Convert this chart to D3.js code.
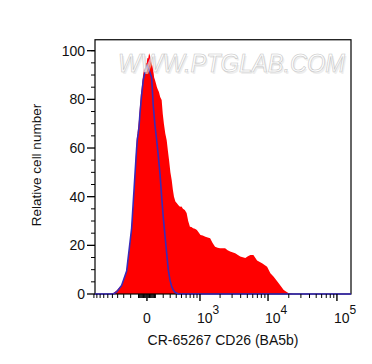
<!DOCTYPE html>
<html><head><meta charset="utf-8">
<script src="https://cdn.jsdelivr.net/npm/d3@7"></script>
<style>body{margin:0;background:#fff}svg{display:block}text{font-family:"Liberation Sans",Arial,sans-serif;fill:#111}</style>
</head><body>
<svg id="c" width="372" height="364"></svg>
<script>
// Fluorescence intensity (x) and relative count (y) for sample (red) histogram
const sampleIntensity = [-700,-553,-484,-413,-333,-297,-256,-224,-187,-163,-144,-123,-113,-103,-93,-83,-72,-62,-52,-43,-33,-23,-13,-3.5,5,15,25,35,45,55,65,74,85,95,107,119,131,144,160,179,194,209,228,248,265,283,303,324,342,361,385,408,440,470,500,530,570,612,650,694,735,779,835,896,1018,1100,1207,1310,1424,1550,1686,1840,1996,2370,2580,2807,3328,3945,4676,5100,5540,6125,6930,8190,9690,10820,12080,14280,16890,19960,23330,160000];
const sampleCount = [0,0,0.3,1.5,3.7,6,9.9,17,27.6,38,49.6,63.2,66,68.7,72,76.9,82,84.5,88,90.6,93,92,95,94.7,97,96.8,99,98,96,95,93.5,92,89,88,86.5,85,84,83,81,79.7,74,70,66,63.2,59,55,50,46.8,43,40,38,37.4,36.5,35.9,36,35,34.5,33.3,30,27.6,27.5,27,26.8,26.3,24.2,24,23.5,23.2,22.9,21,19.4,19,18.8,18.8,18,17.5,16.8,15.4,14.8,15.5,16,16,13.8,12.6,11.2,8.5,7.1,4.4,1.6,0.3,0,0];
// Isotype / control (blue) histogram
const controlIntensity = [-962,-553,-484,-413,-333,-256,-187,-144,-123,-113,-103,-93,-83,-62,-43,-23,-10,0,15,35,55,74,95,114,135,157,179,200,224,248,271,297,324,350,378,439,160000];
const controlCount = [0,0,0,1,3.5,9.5,27,49,60,64,66,69,74,82,88,91,93,94,93,91,89,77.6,69.3,63.8,57,49.6,40,31.7,24,16.7,10,5.7,3,1.6,0.7,0,0];
// Axis ticks
const yMajor = [0,20,40,60,80,100];
const yMinor = [5,10,15,25,30,35,45,50,55,65,70,75,85,90,95,100];
const xLabelTicks = [{v:0,base:"0",exp:""},{v:1e3,base:"10",exp:"3"},{v:1e4,base:"10",exp:"4"},{v:1e5,base:"10",exp:"5"}];
const xMinor = (function(){const t=[];
  for(let k=100;k<=1000;k+=100) t.push(-k);
  for(let k=10;k<100;k+=10){t.push(-k);t.push(k);}
  for(let k=100;k<1000;k+=100) t.push(k);
  for(let k=2000;k<10000;k+=1000) t.push(k);
  for(let k=20000;k<100000;k+=10000) t.push(k);
  return t;})();
const xTitle = "CR-65267 CD26 (BA5b)";
const yTitle = "Relative cell number";
const watermark = "WWW.PTGLAB.COM";

const svg = d3.select("#c");
const W = 350; // biexponential width parameter
const T = v => Math.asinh(v / W);
const L = 95, R = 351, B = 294;
const xt = d3.scaleLinear().domain([T(-962), T(160000)]).range([L, R]);
const x = v => xt(T(v));
const y = d3.scaleLinear().domain([0, 100]).range([B, 50.7]);
const yTop = y(104.5);

// red filled histogram
const red = sampleIntensity.map((v,i)=>[v, sampleCount[i]]);
svg.append("path").datum(red)
  .attr("d", d3.area().x(d=>x(d[0])).y0(y(0)).y1(d=>y(d[1])))
  .attr("fill", "#ff0000");

// frame
svg.append("rect").attr("x", L).attr("y", yTop).attr("width", R-L).attr("height", B-yTop)
  .attr("fill","none").attr("stroke","#000").attr("stroke-width",1.2);

// blue control line
const blue = controlIntensity.map((v,i)=>[v, controlCount[i]]);
svg.append("path").datum(blue)
  .attr("d", d3.line().x(d=>x(d[0])).y(d=>y(d[1])))
  .attr("fill","none").attr("stroke","#3a2ab8").attr("stroke-width",1.6).attr("stroke-linejoin","round");

// y axis
const gy = svg.append("g");
yMinor.forEach(v=>gy.append("line").attr("x1",L-4).attr("x2",L).attr("y1",y(v)).attr("y2",y(v)).attr("stroke","#000"));
yMajor.forEach(v=>{
  gy.append("line").attr("x1",L-8).attr("x2",L).attr("y1",y(v)).attr("y2",y(v)).attr("stroke","#000").attr("stroke-width",1.3);
  gy.append("text").attr("x",L-10).attr("y",y(v)+5).attr("text-anchor","end").attr("font-size",14).text(v);
});

// x axis
const gx = svg.append("g");
xMinor.forEach(v=>gx.append("line").attr("x1",x(v)).attr("x2",x(v)).attr("y1",B).attr("y2",B+4).attr("stroke","#000"));
xLabelTicks.forEach(t=>{
  gx.append("line").attr("x1",x(t.v)).attr("x2",x(t.v)).attr("y1",B).attr("y2",B+7).attr("stroke","#000").attr("stroke-width",1.4);
  if(t.exp===""){
    gx.append("text").attr("x",x(t.v)).attr("y",B+29).attr("text-anchor","middle").attr("font-size",14).text(t.base);
  } else {
    const tx = gx.append("text").attr("x",x(t.v)-3).attr("y",B+29).attr("font-size",14);
    tx.append("tspan").text(t.base);
    tx.append("tspan").attr("dy",-9).attr("font-size",12).text(t.exp);
  }
});

// titles
svg.append("text").attr("x",223).attr("y",345).attr("text-anchor","middle").attr("font-size",14).text(xTitle);
svg.append("text").attr("transform","translate(41,165) rotate(-90)").attr("text-anchor","middle").attr("font-size",13.5).text(yTitle);

// watermark (light outlined letters with soft shadow)
const wm = svg.append("g").style("font-family",'"Liberation Sans Narrow","Liberation Sans",Arial,sans-serif');
wm.append("text").attr("x",119.5).attr("y",73.5).attr("font-size",25).attr("font-style","italic")
  .attr("textLength",227).attr("lengthAdjust","spacingAndGlyphs")
  .style("fill","#e4e4e4").attr("fill-opacity",0.6)
  .text(watermark);
wm.append("text").attr("x",118).attr("y",72).attr("font-size",25).attr("font-style","italic")
  .attr("textLength",227).attr("lengthAdjust","spacingAndGlyphs")
  .style("fill","#ffffff").attr("fill-opacity",0.6).attr("stroke","#c4c4c4").attr("stroke-width",0.6)
  .text(watermark);
</script>
</body></html>
